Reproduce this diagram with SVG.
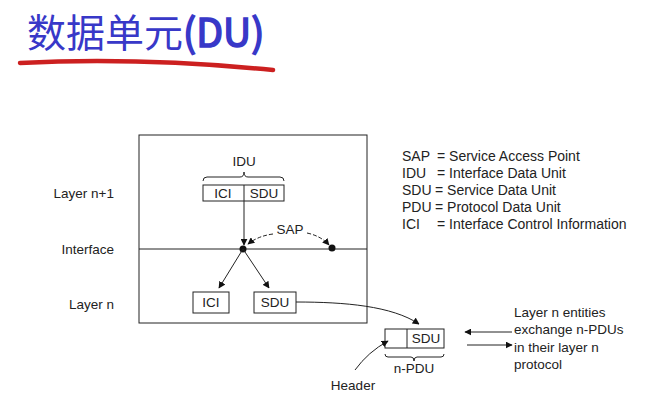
<svg xmlns="http://www.w3.org/2000/svg" width="651" height="403" viewBox="0 0 651 403">
<style>
.t{font-family:"Liberation Sans",Arial,sans-serif;font-size:13.5px;fill:#222}
.lg{font-size:14px}
.m{text-anchor:middle}
.e{text-anchor:end}
.b{fill:#fff;stroke:#222;stroke-width:1}
.ln{fill:none;stroke:#222;stroke-width:1}
.ds{fill:none;stroke:#222;stroke-width:1;stroke-dasharray:4,2}
</style>
<defs>
<marker id="ah" viewBox="0 0 10 10" refX="9" refY="5" markerWidth="7" markerHeight="7" markerUnits="userSpaceOnUse" orient="auto">
<path d="M0,0 L10,5 L0,10 z" fill="#111"/>
</marker>
</defs>
<rect width="651" height="403" fill="#fff"/>
<g id="title">
<text x="27" y="47" style="font-family:'Noto Sans CJK SC',sans-serif;font-size:39px;fill:#3838c8">数据单元<tspan style="stroke:#3838c8;stroke-width:1.6">(DU)</tspan></text>
<path d="M20,63 Q140,57 273,70" fill="none" stroke="#cc2020" stroke-width="4.5" stroke-linecap="round"/>
</g>
<g id="layers">
<rect x="139" y="135" width="228" height="188" class="b"/>
<line x1="139" y1="249" x2="367" y2="249" class="ln"/>
<text x="114" y="198" class="t e">Layer n+1</text>
<text x="114" y="254" class="t e">Interface</text>
<text x="114" y="309" class="t e">Layer n</text>
</g>
<g id="idu">
<text x="244" y="166" class="t m">IDU</text>
<path d="M203,181 Q203,177 207,177 L240,177 Q244,177 244,172 Q244,177 248,177 L280,177 Q284,177 284,181" class="ln"/>
<rect x="203" y="185" width="81" height="16" class="b"/>
<line x1="244" y1="185" x2="244" y2="201" class="ln"/>
<text x="223" y="198" class="t m">ICI</text>
<text x="264" y="198" class="t m">SDU</text>
</g>
<g id="sap">
<circle cx="243" cy="249" r="3.5" fill="#111"/>
<circle cx="332" cy="248" r="3.5" fill="#111"/>
<text x="290" y="234" class="t m">SAP</text>
</g>
<g id="ici-n">
<rect x="193" y="292" width="36" height="21" class="b"/>
<text x="211" y="307" class="t m">ICI</text>
</g>
<g id="sdu-n">
<rect x="254" y="292" width="42" height="21" class="b"/>
<text x="275" y="307" class="t m">SDU</text>
</g>
<g id="npdu">
<rect x="385" y="329" width="59" height="19" class="b"/>
<line x1="407" y1="329" x2="407" y2="348" class="ln"/>
<text x="426" y="343" class="t m">SDU</text>
<path d="M385,354 Q385,357 388,357 L411,357 Q414,357 414,361 Q414,357 417,357 L441,357 Q444,357 444,354" class="ln"/>
<text x="414" y="373" class="t m">n-PDU</text>
<text x="353" y="390" class="t m">Header</text>
</g>
<g id="legend">
<text x="402" y="161" class="t lg">SAP</text><text x="437" y="161" class="t lg">= Service Access Point</text>
<text x="402" y="178" class="t lg">IDU</text><text x="437" y="178" class="t lg">= Interface Data Unit</text>
<text x="402" y="195" class="t lg">SDU</text><text x="435" y="195" class="t lg">= Service Data Unit</text>
<text x="402" y="212" class="t lg">PDU</text><text x="435" y="212" class="t lg">= Protocol Data Unit</text>
<text x="402" y="229" class="t lg">ICI</text><text x="437" y="229" class="t lg">= Interface Control Information</text>
</g>
<g id="note">
<text x="514" y="317" class="t">Layer n entities</text>
<text x="514" y="334" class="t">exchange n-PDUs</text>
<text x="514" y="352" class="t">in their layer n</text>
<text x="514" y="369" class="t">protocol</text>
</g>
<g id="connectors">
<line x1="244" y1="201" x2="244" y2="245" class="ln" marker-end="url(#ah)"/>
<line x1="243" y1="249" x2="219" y2="288" class="ln" marker-end="url(#ah)"/>
<line x1="243" y1="249" x2="269" y2="288" class="ln" marker-end="url(#ah)"/>
<path d="M273,234 Q258,236 248,244" class="ds" marker-end="url(#ah)"/>
<path d="M307,233 Q321,236 329,245" class="ds" marker-end="url(#ah)"/>
<path d="M296,302 C345,302 392,306 419,324" class="ln" marker-end="url(#ah)"/>
<path d="M355,370 Q368,352 388,341" class="ln" marker-end="url(#ah)"/>
<line x1="512" y1="332" x2="465" y2="332" class="ln" marker-end="url(#ah)"/>
<line x1="467" y1="345" x2="512" y2="345" class="ln" marker-end="url(#ah)"/>
</g>
</svg>
